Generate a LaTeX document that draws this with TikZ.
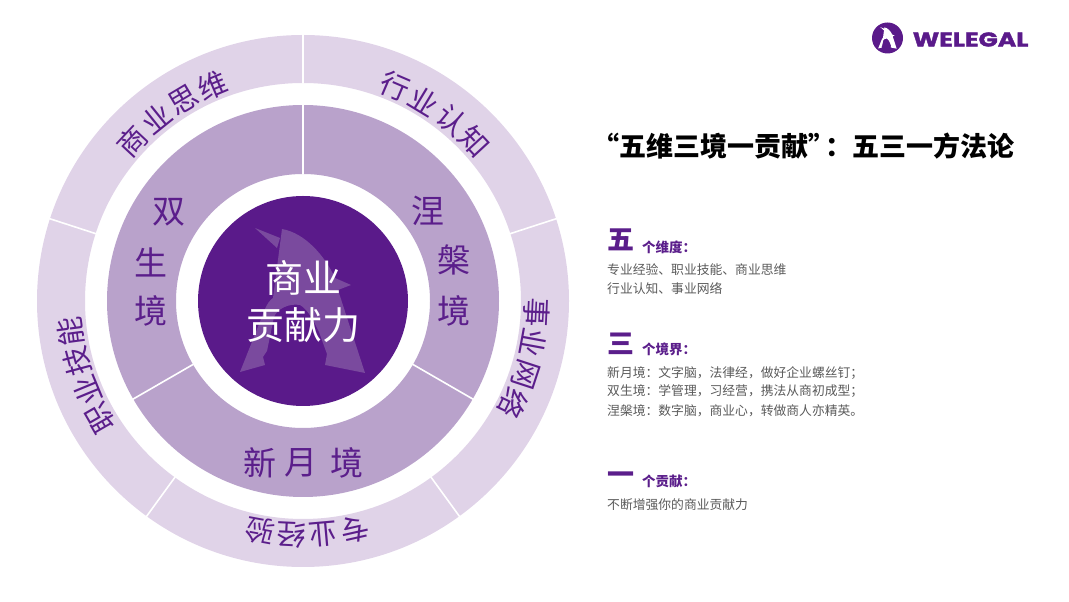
\documentclass[tikz,border=0pt]{standalone}
\usepackage{fontspec}
\setmainfont{Noto Sans CJK SC}
\newfontfamily\latinlogo[BoldFeatures={FakeBold=1.6}]{Poppins}
\definecolor{outerc}{HTML}{E0D3E8}
\definecolor{midc}{HTML}{B9A2CB}
\definecolor{deep}{HTML}{5A1A8A}
\definecolor{inkc}{HTML}{5B1E8B}
\definecolor{markc}{HTML}{7A4A9E}
\definecolor{bodyc}{HTML}{5A5A5A}
\newcommand{\fs}[1]{\fontsize{#1}{#1}\selectfont}
% A mark, in coordinates relative to the centre of the disc
\newcommand{\markA}[1]{%
  \fill[#1] (-48,73) -- (-23,63) -- (-26,53) -- cycle;
  \fill[#1] (-21,72) .. controls (2,68) and (22,45) .. (32,23) -- (48,16) -- (35,11)
    -- (62,-72) -- (22,-64) -- (24,-53) -- (16,-31) .. controls (10,-18) and (4,-8) .. (-3,-4)
    .. controls (-14,-2) and (-26,-8) .. (-29,-16)
    -- (-36,-50) -- (-40,-56) -- (-38,-64) -- (-63,-71) -- (-38,-8)
    .. controls (-36,-3) and (-33,1) .. (-30,3)
    -- cycle;}
\tikzset{
  x=1pt,y=1pt,
  arcch/.style={font=\fs{29},text=inkc,inner sep=0pt},
  ringch/.style={font=\fs{33},text=inkc,inner sep=0pt},
  corech/.style={font=\fs{38},text=white,inner sep=0pt},
  bigch/.style={font=\bfseries\fs{27},text=inkc,inner sep=0pt,anchor=west},
  headch/.style={font=\bfseries\fs{13.5},text=inkc,inner sep=0pt,anchor=west},
  bodych/.style={font=\fs{12.8},text=bodyc,inner sep=0pt,anchor=west},
  divider/.style={white,line width=1.6pt},
}
\begin{document}
\begin{tikzpicture}
\useasboundingbox (0,0) rectangle (1069,602);
\begin{scope}[shift={(303,301)}]
  \fill[outerc,even odd rule] (0,0) circle (266) (0,0) circle (218);
  \fill[midc,even odd rule] (0,0) circle (196) (0,0) circle (127);
  \fill[deep] (0,0) circle (105);
  \markA{markc}
  \foreach \a in {90,18,-54,-126,162}
    \draw[divider] (\a:217.5) -- (\a:267);
  \foreach \a in {90,-30,-150}
    \draw[divider] (\a:126.5) -- (\a:197);
  \foreach \c/\a in {商/137,业/128.8,思/120.8,维/112.8,
                     行/66.8,业/58.8,认/50.6,知/42.8,
                     事/-2.7,业/-10.4,网/-18.2,络/-25.9,
                     专/-77.3,业/-85,经/-92.8,验/-100.5,
                     职/210,业/202.5,技/195,能/187.6}
    \node[arcch,rotate=\a-90] (arc\a) at (\a:234) {\c};
  \node[ringch] (ringA) at (-134,89) {双};
  \node[ringch] (ringB) at (-152,39) {生};
  \node[ringch] (ringC) at (-152,-10) {境};
  \node[ringch] (ringD) at (125,90) {涅};
  \node[ringch] (ringE) at (151,41) {槃};
  \node[ringch] (ringF) at (151,-10) {境};
  \node[ringch] (ringG) at (-43,-162) {新};
  \node[ringch] (ringH) at (-2,-162) {月};
  \node[ringch] (ringI) at (44,-162) {境};
  \node[corech] (coreA) at (0,23) {商业};
  \node[corech] (coreB) at (0,-24) {贡献力};
\end{scope}
% top logo
\fill[deep] (887.5,564) circle (15.5);
\begin{scope}[shift={(887.5,564)},scale=0.148]
  \markA{white}
\end{scope}
\node[inner sep=0pt,anchor=west,text=deep,xscale=1.26] (brand) at (912.5,562.5)
  {\latinlogo\bfseries\fs{20}WELEGAL};
% right column
\node[font=\bfseries\fs{27},text=black,inner sep=0pt,anchor=west] (title) at (592.5,456)
  {“五维三境一贡献”\kern-10pt：五三一方法论};
\node[bigch] (numA) at (607,362) {五};
\node[headch] (headA) at (642,355) {个维度：};
\node[bodych] (bodyA) at (607,332) {专业经验、职业技能、商业思维};
\node[bodych] (bodyB) at (607,313) {行业认知、事业网络};
\node[bigch] (numB) at (607,258) {三};
\node[headch] (headB) at (642,253) {个境界：};
\node[bodych] (bodyC) at (607,228.5) {新月境：文字脑，法律经，做好企业螺丝钉；};
\node[bodych] (bodyD) at (607,210.5) {双生境：学管理，习经营，携法从商初成型；};
\node[bodych] (bodyE) at (607,191.5) {涅槃境：数字脑，商业心，转做商人亦精英。};
\node[bigch] (numC) at (607,124) {一};
\node[headch] (headC) at (642,121) {个贡献：};
\node[bodych] (bodyF) at (607,97) {不断增强你的商业贡献力};
\end{tikzpicture}
\end{document}
